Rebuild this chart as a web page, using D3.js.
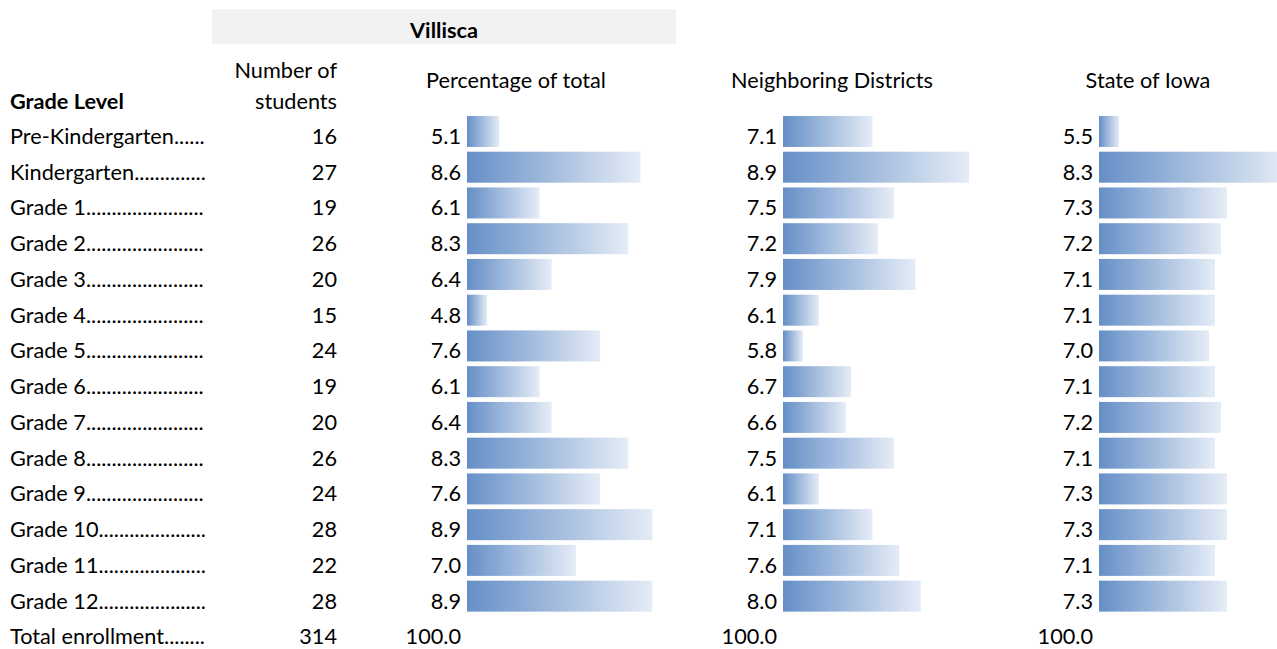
<!DOCTYPE html>
<meta charset="utf-8">
<style>
body { margin: 0; background: #fff; }
text { font-family: Lato, "Open Sans", sans-serif; font-size: 21.7px; fill: #000; }
.bold { font-weight: bold; }
</style>
<body>
<script src="https://d3js.org/d3.v7.min.js"></script>
<script>
// data
var grades = ["Pre-Kindergarten", "Kindergarten", "Grade 1", "Grade 2", "Grade 3", "Grade 4",
  "Grade 5", "Grade 6", "Grade 7", "Grade 8", "Grade 9", "Grade 10", "Grade 11", "Grade 12"];
var students = [16, 27, 19, 26, 20, 15, 24, 19, 20, 26, 24, 28, 22, 28];
var villisca = [5.1, 8.6, 6.1, 8.3, 6.4, 4.8, 7.6, 6.1, 6.4, 8.3, 7.6, 8.9, 7.0, 8.9];
var neighboring = [7.1, 8.9, 7.5, 7.2, 7.9, 6.1, 5.8, 6.7, 6.6, 7.5, 6.1, 7.1, 7.6, 8.0];
var iowa = [5.5, 8.3, 7.3, 7.2, 7.1, 7.1, 7.0, 7.1, 7.2, 7.1, 7.3, 7.3, 7.1, 7.3];
var totalStudents = 314;
var totalPct = "100.0";

var width = 1277, height = 649;

var svg = d3.select("body").append("svg")
    .attr("width", width)
    .attr("height", height);

var defs = svg.append("defs");
var grad = defs.append("linearGradient")
    .attr("id", "barGrad")
    .attr("x1", "0%").attr("x2", "100%").attr("y1", "0%").attr("y2", "0%");
grad.append("stop").attr("offset", "0%").attr("stop-color", "#658fc7");
grad.append("stop").attr("offset", "100%").attr("stop-color", "#e5ecf6");

var y = d3.scaleBand()
    .domain(grades)
    .range([113.6, 614])
    .paddingInner(0.133)
    .paddingOuter(0.066);

// one block per percentage column
var columns = [
  {title: "Percentage of total", values: villisca, x: d3.scaleLinear().domain([4.3, 8.9]).range([467, 652.5]), labelX: 461, titleX: 516},
  {title: "Neighboring Districts", values: neighboring, x: d3.scaleLinear().domain([5.43, 8.9]).range([783, 969]), labelX: 777, titleX: 832},
  {title: "State of Iowa", values: iowa, x: d3.scaleLinear().domain([5.167, 8.3]).range([1099, 1287]), labelX: 1093, titleX: 1148}
];

// header band
svg.append("rect")
    .attr("x", 212).attr("y", 9)
    .attr("width", 464).attr("height", 35)
    .attr("fill", "#f2f2f2");
svg.append("text").attr("class", "bold")
    .attr("x", 444).attr("y", 38)
    .attr("text-anchor", "middle")
    .text("Villisca");

svg.append("text").attr("x", 337).attr("y", 78).attr("text-anchor", "end").text("Number of");
svg.append("text").attr("x", 337).attr("y", 109).attr("text-anchor", "end").text("students");
svg.append("text").attr("class", "bold").attr("x", 10).attr("y", 109).text("Grade Level");

// grade labels with dot leaders up to x=205
var rows = svg.selectAll(".row")
    .data(grades)
  .enter().append("g")
    .attr("class", "row")
    .attr("transform", function(d) { return "translate(0," + (y(d) + 28) + ")"; });

function leader(sel, label, end) {
  var t = sel.append("text").attr("x", 10).text(label);
  var s = label;
  while (t.node().getComputedTextLength() + 10 < end - 4) {
    s += ".";
    t.text(s);
  }
}

rows.each(function(d) { leader(d3.select(this), d, 206); });

rows.append("text")
    .attr("x", 337)
    .attr("text-anchor", "end")
    .text(function(d, i) { return students[i]; });

columns.forEach(function(c) {
  svg.append("text")
      .attr("x", c.titleX).attr("y", 88)
      .attr("text-anchor", "middle")
      .text(c.title);

  svg.selectAll(null)
      .data(grades)
    .enter().append("rect")
      .attr("x", c.x.range()[0])
      .attr("y", function(d) { return y(d); })
      .attr("height", y.bandwidth())
      .attr("width", function(d, i) { return c.x(c.values[i]) - c.x.range()[0]; })
      .attr("fill", "url(#barGrad)");

  svg.selectAll(null)
      .data(grades)
    .enter().append("text")
      .attr("x", c.labelX)
      .attr("y", function(d) { return y(d) + 28; })
      .attr("text-anchor", "end")
      .text(function(d, i) { return c.values[i].toFixed(1); });

  svg.append("text")
      .attr("x", c.labelX).attr("y", 644)
      .attr("text-anchor", "end")
      .text(totalPct);
});

var total = svg.append("g").attr("transform", "translate(0,644)");
leader(total, "Total enrollment", 206);
total.append("text").attr("x", 337).attr("text-anchor", "end").text(totalStudents);
</script>
</body>
</html>
